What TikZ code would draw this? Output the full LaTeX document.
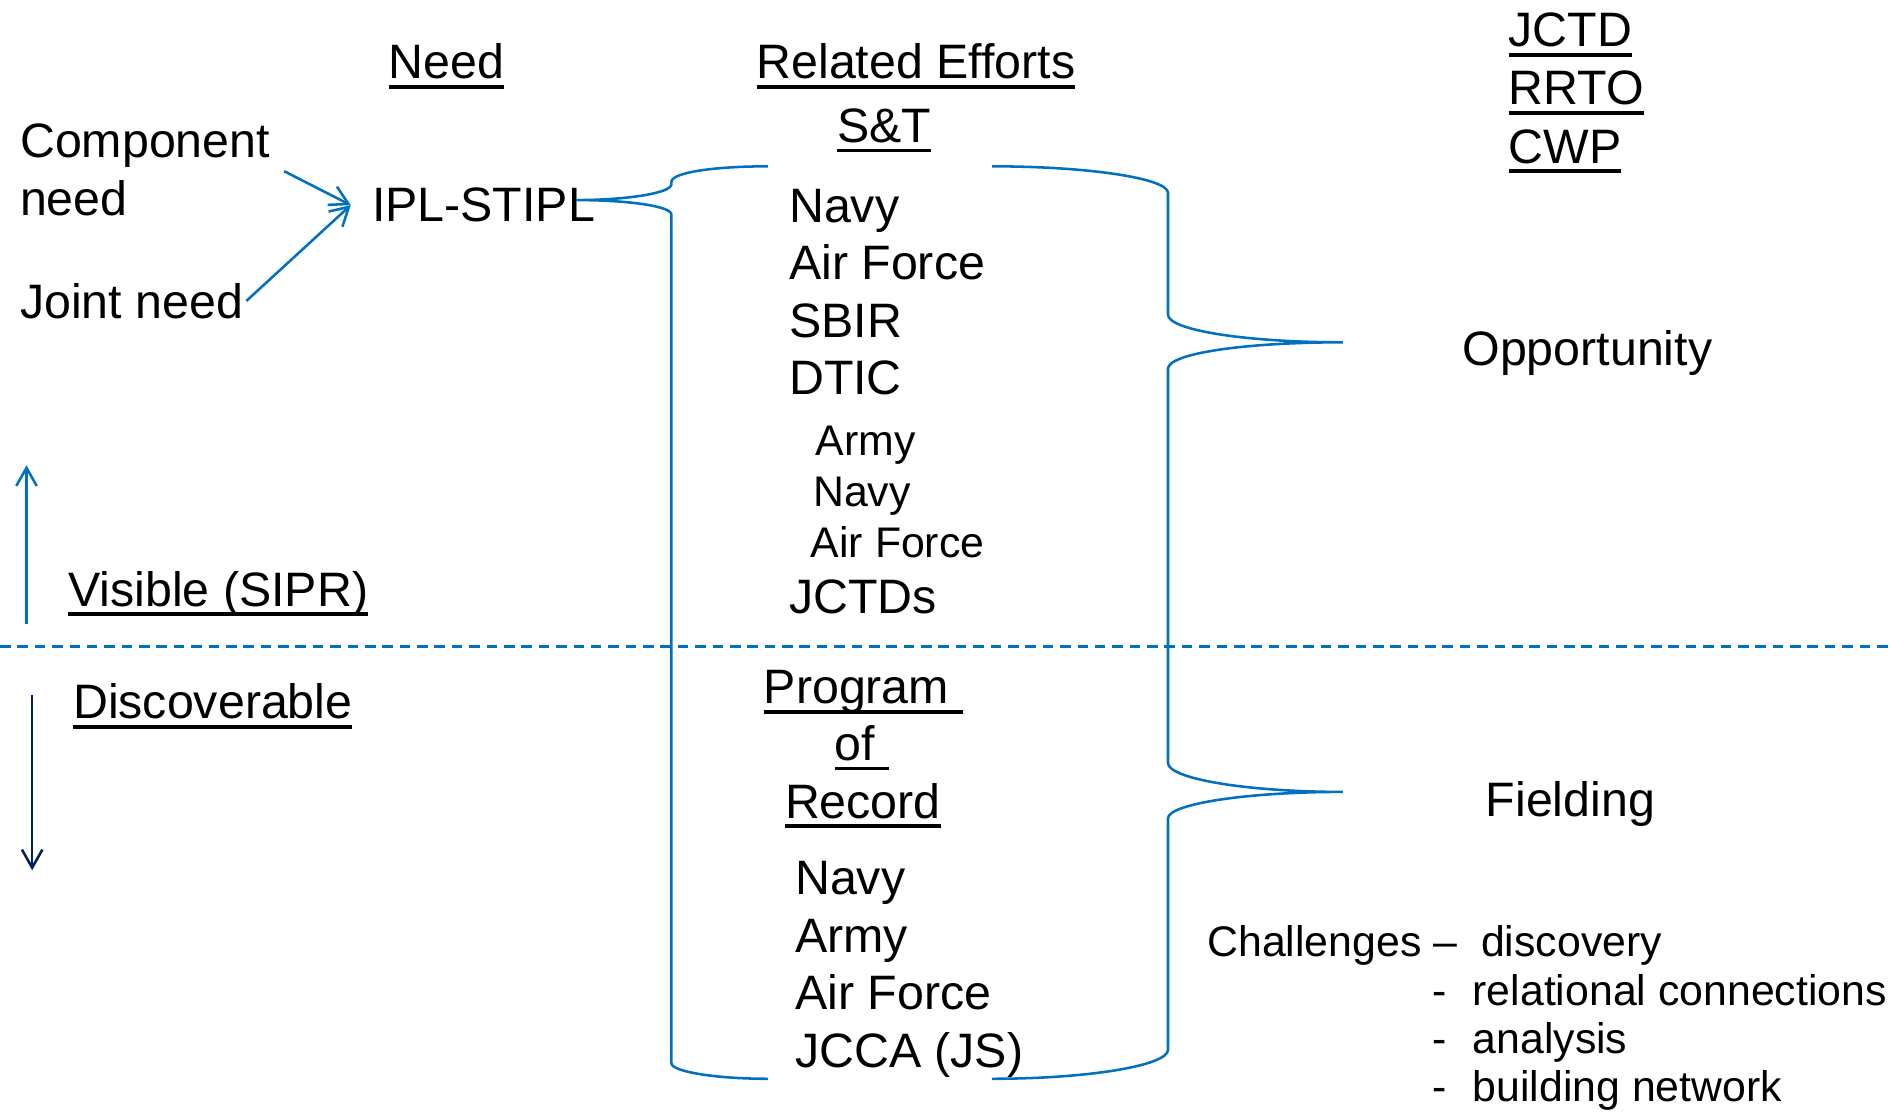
\documentclass[tikz,border=0pt]{standalone}
\usepackage{fontspec}
\setmainfont{Liberation Sans}
\usepackage{tikz}
\usetikzlibrary{arrows.meta}
\definecolor{lnblue}{RGB}{0,112,192}
\definecolor{navyblue}{RGB}{0,32,96}
\newcommand{\bigsz}{\fontsize{11.4}{13.5}\selectfont}
\newcommand{\smallsz}{\fontsize{10.1}{11.4}\selectfont}
\newcommand{\ulin}[1]{\setbox0\hbox{#1}\rlap{\rule[-2.3pt]{\wd0}{0.9pt}}\box0}

\begin{document}
\begin{tikzpicture}[x=0.01cm,y=-0.01cm,
	txt/.style={anchor=base west,inner sep=0pt,font=\bigsz},
	sml/.style={anchor=base west,inner sep=0pt,font=\smallsz},
	bline/.style={lnblue,line width=0.6pt},
	arr/.style={bline,-{Straight Barb[length=1.5mm,width=1.7mm]}}]
	\useasboundingbox (0,0) rectangle (1568,925);
	% headings
	\node[txt] (need) at (322,65.5) {\ulin{Need}};
	\node[txt] (related) at (627,65.5) {\ulin{Related Efforts}};
	\node[txt] (st) at (694,118.4) {\ulin{S\&T}};
	\node[txt] (jctd) at (1251,39) {\ulin{JCTD}};
	\node[txt] (rrto) at (1251,87) {\ulin{RRTO}};
	\node[txt] (cwp) at (1251,135.5) {\ulin{CWP}};
	% need side
	\node[txt,align=left] (comp) at (16,178.5) {Component\\need};
	\node[txt] (joint) at (16,264) {Joint need};
	\node[txt] (ipl) at (308,184) {IPL-STIPL};
	\coordinate (meet) at ([xshift=-0.17cm]ipl.west);
	\draw[arr] ([shift={(11,-36.5)}]comp.base east) -- (meet);
	\draw[arr] ([xshift=0.02cm]joint.east) -- (meet);
	% S&T efforts
	\foreach \lbl [count=\i] in {Navy,Air Force,SBIR,DTIC}
	{
		\node[txt] (eff\i) at (654,137.1+47.6*\i) {\lbl};
	}
	\node[sml] (army2) at (676,377.5) {Army};
	\node[sml] (navy2) at (674,420.3) {Navy};
	\node[sml] (af2) at (672,462.6) {Air Force};
	\node[txt] (jctds) at (654,508.7) {JCTDs};
	% program of record
	\node[txt] (prog) at (633,584) {\ulin{Program\ }};
	\node[txt] (of) at (692,631) {\ulin{of\ }};
	\node[txt] (rec) at (650.6,679) {\ulin{Record}};
	\foreach \lbl [count=\i] in {Navy,Army,Air Force,JCCA (JS)}
	{
		\node[txt] (por\i) at (659,694.9+47.6*\i) {\lbl};
	}
	% braces
	\draw[bline] (637,138) .. controls (593,138) and (557,143) .. (557,151)
		-- (557,153) .. controls (557,160) and (521,166) .. (478,166)
		.. controls (521,166) and (557,171) .. (557,178)
		-- (557,882) .. controls (557,889) and (593,895) .. (637,895);
	\draw[bline] (823,138) .. controls (903,138) and (969,148) .. (969,160)
		-- (969,261) .. controls (969,274) and (1034,284) .. (1114,284)
		.. controls (1034,284) and (969,293) .. (969,306)
		-- (969,633) .. controls (969,646) and (1034,657) .. (1114,657)
		.. controls (1034,657) and (969,667) .. (969,679)
		-- (969,871) .. controls (969,884) and (903,895) .. (823,895);
	\node[txt] (opp) at (1212.6,303.6) {Opportunity};
	\node[txt] (field) at (1232,677) {Fielding};
	% visible / discoverable
	\draw[bline,dash pattern=on 2.5pt off 1.6pt] (0,536.5) -- (1568,536.5);
	\node[txt] (vis) at (56,503) {\ulin{Visible (SIPR)}};
	\node[txt] (disc) at (60,596.5) {\ulin{Discoverable}};
	\coordinate (vislo) at (22,518);
	\coordinate (vishi) at (22,386);
	\coordinate (dischi) at (26.7,577);
	\coordinate (disclo) at (26.7,722);
	\draw[arr] (vislo) -- (vishi);
	\draw[arr,navyblue] (dischi) -- (disclo);
	% challenges
	\node[sml,align=left] (chal) at (1001,914)
		{\makebox[2.27cm][l]{Challenges --}discovery\\
		\makebox[2.2cm][l]{\hspace*{1.87cm}-}relational connections\\
		\makebox[2.2cm][l]{\hspace*{1.87cm}-}analysis\\
		\makebox[2.2cm][l]{\hspace*{1.87cm}-}building network};
\end{tikzpicture}
\end{document}
